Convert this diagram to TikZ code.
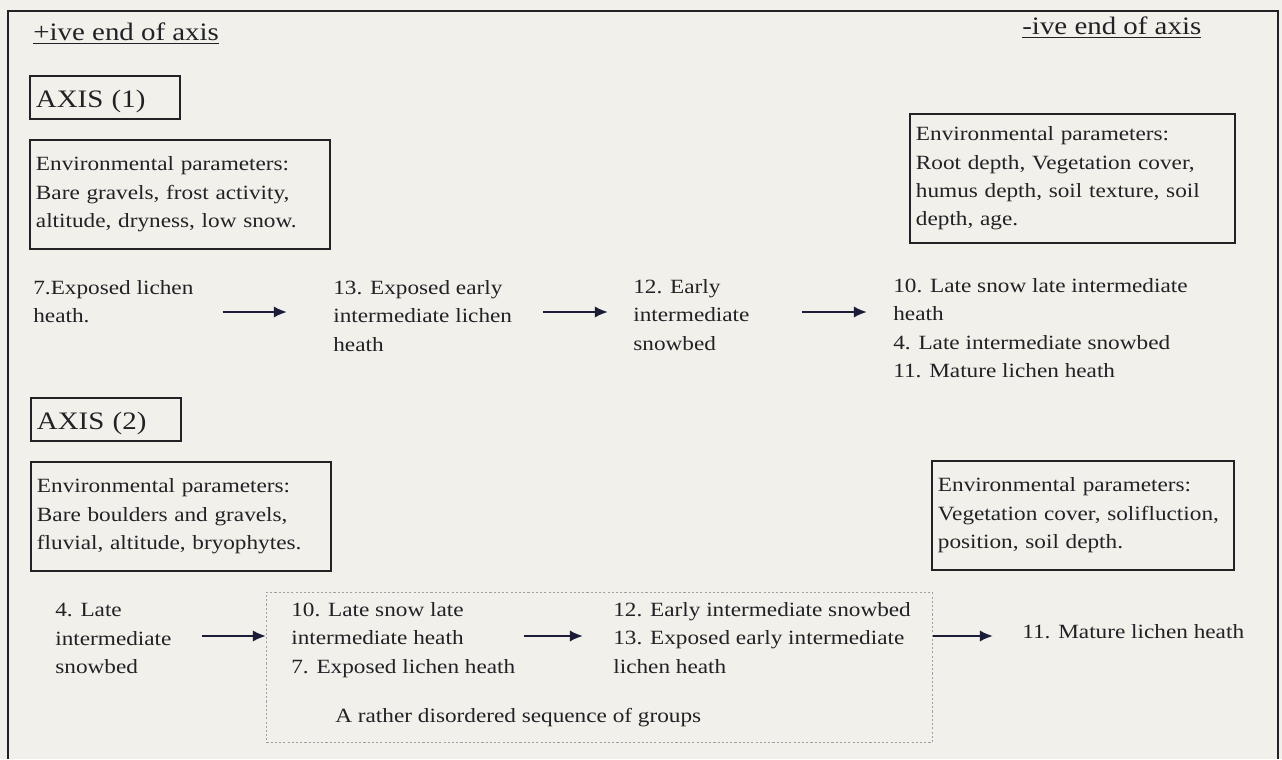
\documentclass[tikz,border=0pt]{standalone}
\usepackage{fontspec}
\setmainfont{Liberation Serif}[FakeStretch=1.15]
\usepackage{tikz}
\usetikzlibrary{arrows.meta}
\definecolor{ink}{HTML}{222226}
\definecolor{navy}{HTML}{1C1C38}
\definecolor{paper}{HTML}{F1F0EA}
\definecolor{dots}{HTML}{A0A0A0}

\begin{document}
\begin{tikzpicture}[x=0.02cm,y=-0.02cm,every node/.style={text=ink},
  head/.style={anchor=base west,inner sep=0pt,font=\fontsize{14.3}{16}\selectfont},
  axisbox/.style={draw=ink,line width=1.1pt,anchor=north west,align=left,font=\fontsize{14.3}{16}\selectfont,text width=2.76cm,inner xsep=0.12cm,minimum height=0.86cm,text height=0.5cm,text depth=0.08cm},
  envbox/.style={draw=ink,line width=1.1pt,anchor=north west,align=left,inner xsep=0.12cm,minimum height=2.18cm,font=\fontsize{11.5}{16.2}\selectfont},
  group/.style={anchor=north west,align=left,inner sep=0pt,font=\fontsize{11.5}{16.2}\selectfont},
  flow/.style={-{Latex[length=7.5pt,width=6.5pt]},line width=1.3pt,navy}]
  % Page and frame
  \fill[paper] (0,0) rectangle (1282,759);
  \draw[ink,line width=1.1pt] (8,759) -- (8,11) -- (1278,11) -- (1278,759);
  \node[head] (posend) at (33,41) {\underline{+ive end of axis}};
  \node[head] (negend) at (1022,35) {\underline{-ive end of axis}};

  % Axis 1
  \node[axisbox] (axisA) at (29,75) {AXIS (1)};
  \node[envbox,text width=5.76cm] (envA) at (29,139) {Environmental parameters:\\Bare gravels, frost activity,\\altitude, dryness, low snow.};
  \node[envbox,text width=6.26cm,minimum height=2.58cm] (envB) at (909,113) {Environmental parameters:\\Root depth, Vegetation cover,\\humus depth, soil texture, soil\\depth, age.};
  \coordinate (row1) at (0,312);
  \node[group] (g7) at (33,280) {7.Exposed lichen\\heath.};
  \node[group] (g13) at (333,280) {13. Exposed early\\intermediate lichen\\heath};
  \node[group] (g12) at (633,279) {12. Early\\intermediate\\snowbed};
  \node[group] (g10) at (893,278) {10. Late snow late intermediate\\heath\\4. Late intermediate snowbed\\11. Mature lichen heath};
  \draw[flow,shorten <=0.58cm,shorten >=0.92cm] (g7.east |- row1) -- (g13.west |- row1);
  \draw[flow,shorten <=0.62cm,shorten >=0.5cm] (g13.east |- row1) -- (g12.west |- row1);
  \draw[flow,shorten <=1.04cm,shorten >=0.52cm] (g12.east |- row1) -- (g10.west |- row1);

  % Axis 2
  \node[axisbox] (axisB) at (30,397) {AXIS (2)};
  \node[envbox,text width=5.76cm] (envC) at (30,461) {Environmental parameters:\\Bare boulders and gravels,\\fluvial, altitude, bryophytes.};
  \node[envbox,text width=5.8cm] (envD) at (931,460) {Environmental parameters:\\Vegetation cover, solifluction,\\position, soil depth.};
  \coordinate (row2) at (0,636);
  \node[group] (h4) at (55,603) {4. Late\\intermediate\\snowbed};
  \node[draw=dots,line width=0.5pt,dash pattern=on 1.2pt off 1.2pt,anchor=north west,minimum width=13.32cm,minimum height=3cm,inner sep=0pt] (mixbox) at (266,592) {};
  \node[group] (h10) at (291,602) {10. Late snow late\\intermediate heath\\7. Exposed lichen heath};
  \node[group] (h12) at (613,602) {12. Early intermediate snowbed\\13. Exposed early intermediate\\lichen heath};
  \node[group] (mixnote) at (335,708) {A rather disordered sequence of groups};
  \node[group] (h11) at (1022,624) {11. Mature lichen heath};
  \draw[flow,shorten <=0.6cm] (h4.east |- row2) -- (mixbox.west |- row2);
  \draw[flow,shorten <=0.16cm,shorten >=0.6cm] (h10.east |- row2) -- (h12.west |- row2);
  \draw[flow,shorten >=0.58cm] (mixbox.east |- row2) -- (h11.west |- row2);
\end{tikzpicture}
\end{document}
